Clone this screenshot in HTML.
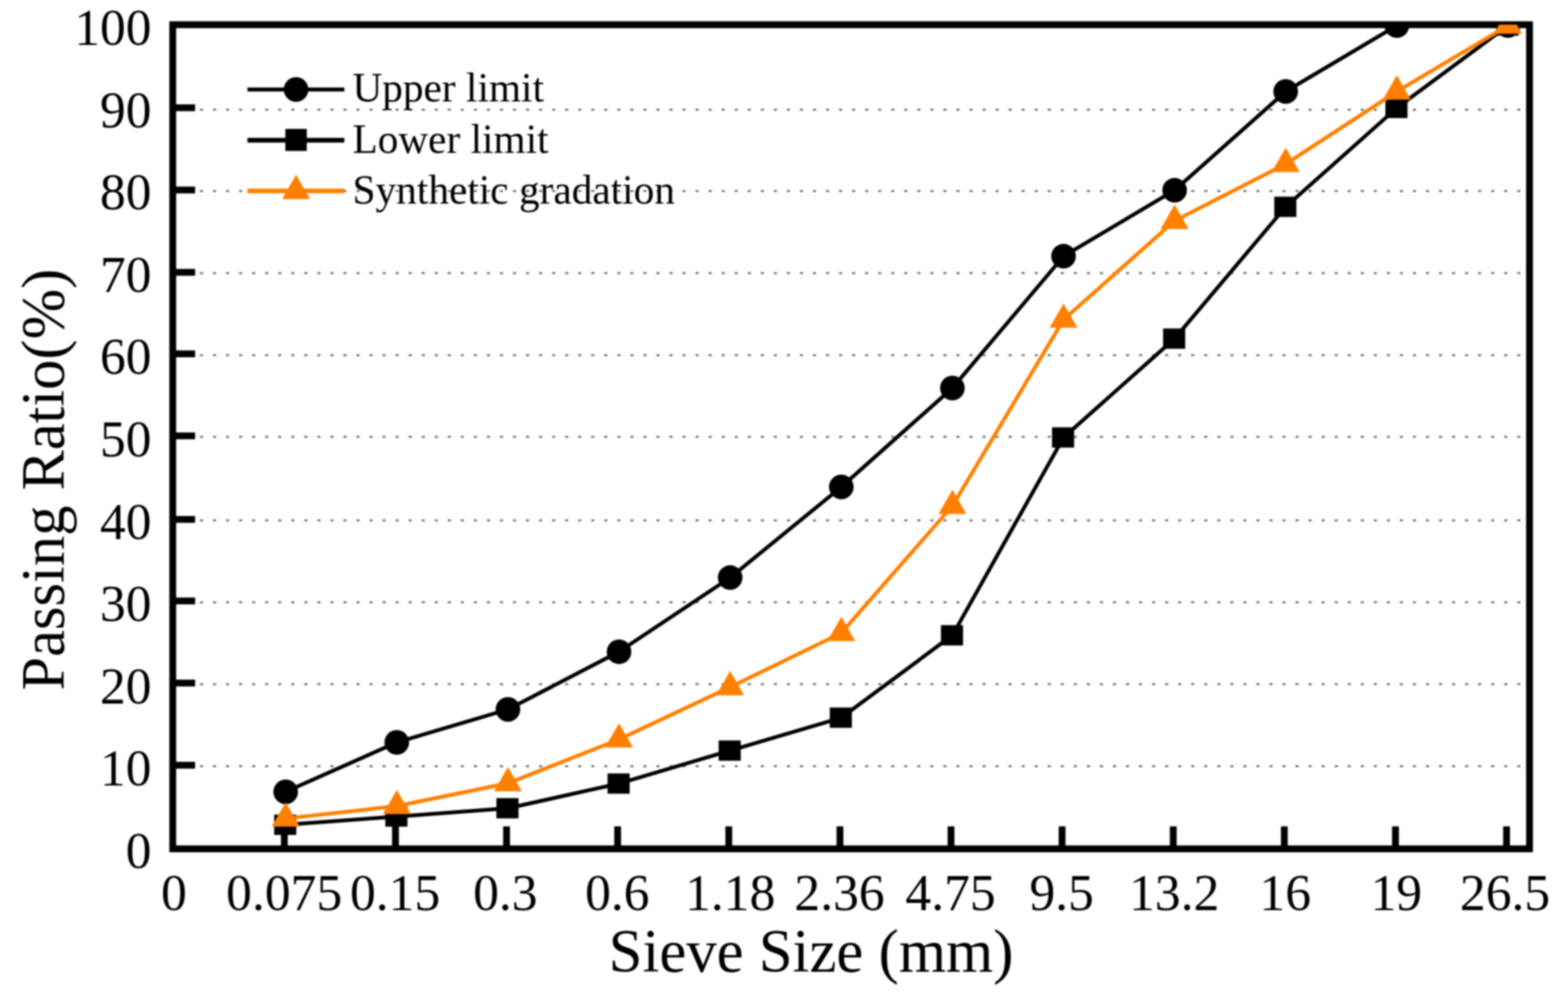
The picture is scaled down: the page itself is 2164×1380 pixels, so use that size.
<!DOCTYPE html>
<html lang="en"><head><meta charset="utf-8"><title>Gradation curve</title>
<style>
html,body{margin:0;padding:0;background:#fff;}
body{width:2164px;height:1380px;overflow:hidden;}
svg{display:block;}
text{font-family:"Liberation Serif",serif;fill:#000;}
.tk{font-size:71px;}
.lg{font-size:57px;}
.ax{font-size:84.5px;}
</style></head><body>
<svg width="2164" height="1380" viewBox="0 0 2164 1380">
<defs><filter id="soft" filterUnits="userSpaceOnUse" x="0" y="0" width="2164" height="1380" color-interpolation-filters="sRGB"><feGaussianBlur stdDeviation="0.9"/></filter></defs>
<g filter="url(#soft)">
<rect x="-20" y="-20" width="2204" height="1420" fill="#fff"/>
<defs><clipPath id="plot"><rect x="238.4" y="34.1" width="1872.5" height="1137.3"/></clipPath></defs>
<g stroke="#747474" stroke-width="2.7" stroke-dasharray="4.4 13.6" fill="none">
<line x1="275.9" y1="1057.3" x2="2100" y2="1057.3"/>
<line x1="275.9" y1="944.2" x2="2100" y2="944.2"/>
<line x1="275.9" y1="831.1" x2="2100" y2="831.1"/>
<line x1="275.9" y1="718.2" x2="2100" y2="718.2"/>
<line x1="275.9" y1="602.9" x2="2100" y2="602.9"/>
<line x1="275.9" y1="490.2" x2="2100" y2="490.2"/>
<line x1="275.9" y1="376.8" x2="2100" y2="376.8"/>
<line x1="275.9" y1="263.6" x2="2100" y2="263.6"/>
<line x1="275.9" y1="151.3" x2="2100" y2="151.3"/>
</g>
<rect x="238.4" y="34.1" width="1872.5" height="1137.3" fill="none" stroke="#000" stroke-width="9.4"/>
<g stroke="#000" stroke-width="9.4" fill="none">
<line x1="238.4" y1="1056.0" x2="269.3" y2="1056.0"/>
<line x1="238.4" y1="942.6" x2="269.3" y2="942.6"/>
<line x1="238.4" y1="829.3" x2="269.3" y2="829.3"/>
<line x1="238.4" y1="716.8" x2="269.3" y2="716.8"/>
<line x1="238.4" y1="601.5" x2="269.3" y2="601.5"/>
<line x1="238.4" y1="488.3" x2="269.3" y2="488.3"/>
<line x1="238.4" y1="375.8" x2="269.3" y2="375.8"/>
<line x1="238.4" y1="262.2" x2="269.3" y2="262.2"/>
<line x1="238.4" y1="148.7" x2="269.3" y2="148.7"/>
<line x1="392.4" y1="1171.4" x2="392.4" y2="1140.4"/>
<line x1="545.8" y1="1171.4" x2="545.8" y2="1140.4"/>
<line x1="699.1" y1="1171.4" x2="699.1" y2="1140.4"/>
<line x1="852.4" y1="1171.4" x2="852.4" y2="1140.4"/>
<line x1="1005.8" y1="1171.4" x2="1005.8" y2="1140.4"/>
<line x1="1159.2" y1="1171.4" x2="1159.2" y2="1140.4"/>
<line x1="1312.5" y1="1171.4" x2="1312.5" y2="1140.4"/>
<line x1="1465.8" y1="1171.4" x2="1465.8" y2="1140.4"/>
<line x1="1619.2" y1="1171.4" x2="1619.2" y2="1140.4"/>
<line x1="1772.5" y1="1171.4" x2="1772.5" y2="1140.4"/>
<line x1="1925.9" y1="1171.4" x2="1925.9" y2="1140.4"/>
<line x1="2079.2" y1="1171.4" x2="2079.2" y2="1140.4"/>
</g>
<g clip-path="url(#plot)">
<polyline points="394.3,1092.7 547.6,1024.5 701.0,979.0 854.3,899.4 1007.7,797.1 1161.1,672.0 1314.4,535.5 1467.8,353.6 1621.1,262.6 1774.4,126.2 1927.8,35.2 2081.2,35.2" fill="none" stroke="#000" stroke-width="5.2" stroke-linejoin="round"/>
<circle cx="394.3" cy="1092.7" r="17.0" fill="#000"/>
<circle cx="547.6" cy="1024.5" r="17.0" fill="#000"/>
<circle cx="701.0" cy="979.0" r="17.0" fill="#000"/>
<circle cx="854.3" cy="899.4" r="17.0" fill="#000"/>
<circle cx="1007.7" cy="797.1" r="17.0" fill="#000"/>
<circle cx="1161.1" cy="672.0" r="17.0" fill="#000"/>
<circle cx="1314.4" cy="535.5" r="17.0" fill="#000"/>
<circle cx="1467.8" cy="353.6" r="17.0" fill="#000"/>
<circle cx="1621.1" cy="262.6" r="17.0" fill="#000"/>
<circle cx="1774.4" cy="126.2" r="17.0" fill="#000"/>
<circle cx="1927.8" cy="35.2" r="17.0" fill="#000"/>
<circle cx="2081.2" cy="35.2" r="17.0" fill="#000"/>
<polyline points="394.3,1138.2 547.6,1126.8 701.0,1115.4 854.3,1081.3 1007.7,1035.8 1161.1,990.4 1314.4,876.7 1467.8,603.7 1621.1,467.3 1774.4,285.4 1927.8,148.9 2081.2,35.2" fill="none" stroke="#000" stroke-width="5.2" stroke-linejoin="round"/>
<rect x="378.4" y="1124.2" width="30.5" height="28.0" fill="#000"/>
<rect x="531.8" y="1112.8" width="30.5" height="28.0" fill="#000"/>
<rect x="685.1" y="1101.4" width="30.5" height="28.0" fill="#000"/>
<rect x="838.5" y="1067.3" width="30.5" height="28.0" fill="#000"/>
<rect x="991.8" y="1021.8" width="30.5" height="28.0" fill="#000"/>
<rect x="1145.2" y="976.4" width="30.5" height="28.0" fill="#000"/>
<rect x="1298.6" y="862.7" width="30.5" height="28.0" fill="#000"/>
<rect x="1451.9" y="589.7" width="30.5" height="28.0" fill="#000"/>
<rect x="1605.2" y="453.3" width="30.5" height="28.0" fill="#000"/>
<rect x="1758.6" y="271.4" width="30.5" height="28.0" fill="#000"/>
<rect x="1912.0" y="134.9" width="30.5" height="28.0" fill="#000"/>
<rect x="2065.3" y="21.2" width="30.5" height="28.0" fill="#000"/>
<polyline points="394.3,1129.5 547.6,1112.4 701.0,1080.9 854.3,1020.4 1007.7,948.2 1161.1,873.5 1314.4,698.1 1467.8,441.1 1621.1,304.7 1774.4,226.2 1927.8,126.2 2081.2,35.2" fill="none" stroke="#ff8000" stroke-width="5.2" stroke-linejoin="round"/>
<polygon points="394.3,1107.1 413.6,1140.7 375.0,1140.7" fill="#ff8000"/>
<polygon points="547.6,1090.0 566.9,1123.6 528.4,1123.6" fill="#ff8000"/>
<polygon points="701.0,1058.5 720.3,1092.1 681.7,1092.1" fill="#ff8000"/>
<polygon points="854.3,998.0 873.6,1031.6 835.0,1031.6" fill="#ff8000"/>
<polygon points="1007.7,925.8 1027.0,959.4 988.4,959.4" fill="#ff8000"/>
<polygon points="1161.1,851.1 1180.4,884.7 1141.8,884.7" fill="#ff8000"/>
<polygon points="1314.4,675.7 1333.7,709.3 1295.1,709.3" fill="#ff8000"/>
<polygon points="1467.8,418.7 1487.0,452.3 1448.5,452.3" fill="#ff8000"/>
<polygon points="1621.1,282.3 1640.4,315.9 1601.8,315.9" fill="#ff8000"/>
<polygon points="1774.4,203.8 1793.7,237.4 1755.1,237.4" fill="#ff8000"/>
<polygon points="1927.8,103.8 1947.1,137.4 1908.5,137.4" fill="#ff8000"/>
<polygon points="2081.2,12.8 2100.5,46.4 2061.8,46.4" fill="#ff8000"/>
</g>
<g class="tk" text-anchor="end">
<text x="209" y="1197.6">0</text>
<text x="209" y="1084.1">10</text>
<text x="209" y="970.5">20</text>
<text x="209" y="857.0">30</text>
<text x="209" y="743.5">40</text>
<text x="209" y="629.9">50</text>
<text x="209" y="516.4">60</text>
<text x="209" y="402.9">70</text>
<text x="209" y="289.4">80</text>
<text x="209" y="175.8">90</text>
<text x="209" y="62.3">100</text>
</g>
<g class="tk" text-anchor="middle">
<text transform="translate(240,1256.0) scale(1.003,1)">0</text>
<text transform="translate(392.2,1256.0) scale(1.003,1)">0.075</text>
<text transform="translate(545.2,1256.0) scale(1.003,1)">0.15</text>
<text transform="translate(697.4,1256.0) scale(1.003,1)">0.3</text>
<text transform="translate(851.9,1256.0) scale(1.003,1)">0.6</text>
<text transform="translate(1007.7,1256.0) scale(1.003,1)">1.18</text>
<text transform="translate(1158.6,1256.0) scale(1.003,1)">2.36</text>
<text transform="translate(1311.9,1256.0) scale(1.003,1)">4.75</text>
<text transform="translate(1465.2,1256.0) scale(1.003,1)">9.5</text>
<text transform="translate(1620.5,1256.0) scale(1.003,1)">13.2</text>
<text transform="translate(1773.7,1256.0) scale(1.003,1)">16</text>
<text transform="translate(1927.0,1256.0) scale(1.003,1)">19</text>
<text transform="translate(2077.1,1256.0) scale(1.003,1)">26.5</text>
</g>
<text class="ax" text-anchor="middle" transform="translate(1119.4,1340.6) scale(0.992,1)">Sieve Size (mm)</text>
<text class="ax" text-anchor="middle" transform="translate(87.6,662) rotate(-90) scale(0.988,1)">Passing Ratio(%)</text>
<g>
<line x1="341.5" y1="123.5" x2="475.3" y2="123.5" stroke="#000" stroke-width="5.6"/>
<circle cx="408.6" cy="123.5" r="17.0" fill="#000"/>
<line x1="341.5" y1="193.5" x2="475.3" y2="193.5" stroke="#000" stroke-width="6.4"/>
<rect x="393.8" y="177.9" width="29.6" height="30.4" fill="#000"/>
<line x1="341.5" y1="263.5" x2="475.3" y2="263.5" stroke="#ff8000" stroke-width="6.4"/>
<polygon points="408.6,241.1 427.9,274.7 389.3,274.7" fill="#ff8000"/>
<text class="lg" x="486.4" y="140">Upper limit</text>
<text class="lg" x="486.4" y="210.6">Lower limit</text>
<text class="lg" x="486.6" y="280.8">Synthetic gradation</text>
</g>
</g>
</svg>
</body></html>
